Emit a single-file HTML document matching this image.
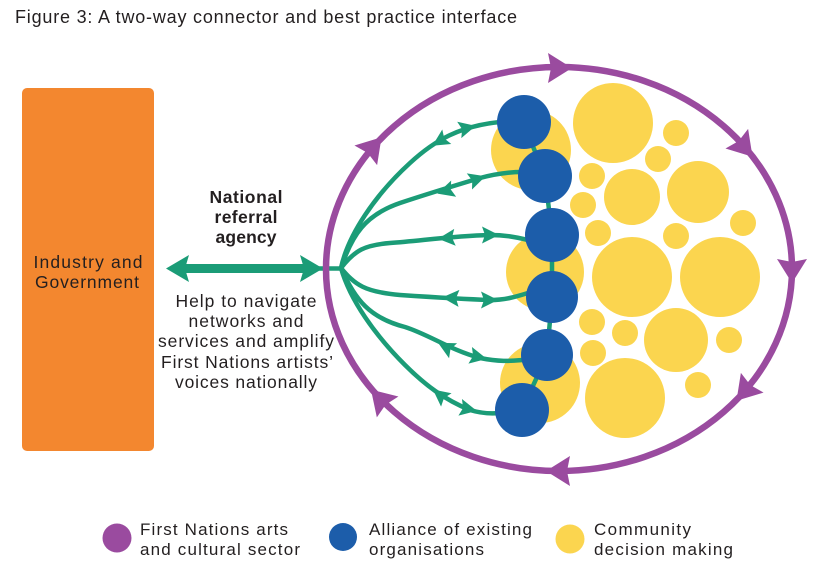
<!DOCTYPE html>
<html><head><meta charset="utf-8"><style>
html,body{margin:0;padding:0;background:#fff;width:821px;height:579px;overflow:hidden}
svg{display:block}
text{font-family:"Liberation Sans",Arial,sans-serif;fill:#231f20}
</style></head><body>
<svg width="821" height="579" viewBox="0 0 821 579" xmlns="http://www.w3.org/2000/svg">
<text x="15" y="23" font-size="18" textLength="502" lengthAdjust="spacing">Figure 3: A two-way connector and best practice interface</text>

<rect x="22" y="88" width="132" height="363" rx="5" fill="#f3872f"/>
<text x="88" y="268" font-size="17.5" text-anchor="middle" textLength="109" lengthAdjust="spacing">Industry and</text>
<text x="87" y="288" font-size="17.5" text-anchor="middle" textLength="104" lengthAdjust="spacing">Government</text>

<g font-weight="bold" font-size="17.5" text-anchor="middle">
<text x="246" y="203" textLength="73" lengthAdjust="spacing">National</text>
<text x="246" y="223" textLength="63" lengthAdjust="spacing">referral</text>
<text x="246" y="243" textLength="61" lengthAdjust="spacing">agency</text>
</g>
<g font-size="17.5" text-anchor="middle">
<text x="246" y="307" textLength="141" lengthAdjust="spacing">Help to navigate</text>
<text x="246" y="327" textLength="115" lengthAdjust="spacing">networks and</text>
<text x="246" y="347" textLength="176" lengthAdjust="spacing">services and amplify</text>
<text x="247" y="368" textLength="172" lengthAdjust="spacing">First Nations artists’</text>
<text x="246" y="388" textLength="142" lengthAdjust="spacing">voices nationally</text>
</g>

<!-- double arrow -->
<g fill="#1b9c77">
<rect x="182" y="264" width="122" height="9"/>
<polygon points="166,268.5 189,255 185,268.5 189,282"/>
<polygon points="323,268.5 300,255 304,268.5 300,282"/>
</g>
<line x1="318" y1="268.5" x2="343" y2="268.5" stroke="#1b9c77" stroke-width="4.5"/>

<!-- yellow circles -->
<g fill="#fbd54f">
<circle cx="531" cy="150" r="40"/>
<circle cx="545" cy="272" r="39"/>
<circle cx="540" cy="383" r="40"/>
<circle cx="613" cy="123" r="40"/>
<circle cx="676" cy="133" r="13"/>
<circle cx="658" cy="159" r="13"/>
<circle cx="592" cy="176" r="13"/>
<circle cx="632" cy="197" r="28"/>
<circle cx="698" cy="192" r="31"/>
<circle cx="583" cy="205" r="13"/>
<circle cx="598" cy="233" r="13"/>
<circle cx="676" cy="236" r="13"/>
<circle cx="743" cy="223" r="13"/>
<circle cx="632" cy="277" r="40"/>
<circle cx="720" cy="277" r="40"/>
<circle cx="592" cy="322" r="13"/>
<circle cx="625" cy="333" r="13"/>
<circle cx="676" cy="340" r="32"/>
<circle cx="729" cy="340" r="13"/>
<circle cx="593" cy="353" r="13"/>
<circle cx="698" cy="385" r="13"/>
<circle cx="625" cy="398" r="40"/>
</g>

<!-- green chain + fan -->
<g fill="none" stroke="#1b9c77" stroke-width="4.5" stroke-linecap="round">
<polyline points="523,122 545,176 552,235 552,297 547,355 522,410"/>
<path d="M341,268 C348,235 375,195 410,163 C435,140 460,126 500,122"/>
<path d="M341,268 C352,235 365,215 400,203 C430,193 460,184 480,178 C495,174 510,172 522,172"/>
<path d="M341,268 C355,250 365,245 390,243 C420,241 450,236 490,235 C505,235 515,237 528,240"/>
<path d="M341,268 C355,285 365,292 400,295 C430,297 460,299 490,300 C505,300 515,297 528,293"/>
<path d="M341,268 C355,300 370,318 405,327 C430,335 450,350 480,358 C500,362 510,361 522,360"/>
<path d="M341,268 C350,300 375,335 405,365 C425,385 445,400 470,410 C480,413 490,414 500,413"/>
</g>
<g fill="#1b9c77">
<polygon points="9,0 -8,-8.5 -5,0 -8,8.5" transform="translate(440,141) rotate(148)"/>
<polygon points="9,0 -8,-8.5 -5,0 -8,8.5" transform="translate(467,128) rotate(-14)"/>
<polygon points="9,0 -8,-8.5 -5,0 -8,8.5" transform="translate(446,191) rotate(163)"/>
<polygon points="9,0 -8,-8.5 -5,0 -8,8.5" transform="translate(477,179) rotate(-18)"/>
<polygon points="9,0 -8,-8.5 -5,0 -8,8.5" transform="translate(447,238) rotate(175)"/>
<polygon points="9,0 -8,-8.5 -5,0 -8,8.5" transform="translate(490,235) rotate(0)"/>
<polygon points="9,0 -8,-8.5 -5,0 -8,8.5" transform="translate(451,298) rotate(183)"/>
<polygon points="9,0 -8,-8.5 -5,0 -8,8.5" transform="translate(489,300) rotate(0)"/>
<polygon points="9,0 -8,-8.5 -5,0 -8,8.5" transform="translate(446,347) rotate(-152)"/>
<polygon points="9,0 -8,-8.5 -5,0 -8,8.5" transform="translate(478,357) rotate(12)"/>
<polygon points="9,0 -8,-8.5 -5,0 -8,8.5" transform="translate(440,395) rotate(-142)"/>
<polygon points="9,0 -8,-8.5 -5,0 -8,8.5" transform="translate(468,409) rotate(12)"/>
</g>

<!-- blue circles -->
<g fill="#1c5daa">
<circle cx="524" cy="122" r="27"/>
<circle cx="545" cy="176" r="27"/>
<circle cx="552" cy="235" r="27"/>
<circle cx="552" cy="297" r="26"/>
<circle cx="547" cy="355" r="26"/>
<circle cx="522" cy="410" r="27"/>
</g>

<!-- purple ring -->
<ellipse cx="559" cy="269" rx="233" ry="202" fill="none" stroke="#9a4b9f" stroke-width="6.5"/>
<g fill="#9a4b9f">
<polygon points="13,0 -11,-15 -8,0 -11,15" transform="translate(559,68) rotate(0)"/>
<polygon points="13,0 -11,-15 -8,0 -11,15" transform="translate(744,147) rotate(49)"/>
<polygon points="13,0 -11,-15 -8,0 -11,15" transform="translate(792,270) rotate(90)"/>
<polygon points="13,0 -11,-15 -8,0 -11,15" transform="translate(745,391) rotate(131)"/>
<polygon points="13,0 -11,-15 -8,0 -11,15" transform="translate(559,471) rotate(180)"/>
<polygon points="13,0 -11,-15 -8,0 -11,15" transform="translate(380,399) rotate(-134)"/>
<polygon points="13,0 -11,-15 -8,0 -11,15" transform="translate(373,147) rotate(-49)"/>
</g>

<!-- legend -->
<ellipse cx="117" cy="538" rx="14.5" ry="14.5" fill="#9a4b9f"/>
<ellipse cx="343" cy="537" rx="14" ry="14" fill="#1c5daa"/>
<ellipse cx="570" cy="539" rx="14.5" ry="14.5" fill="#fbd54f"/>
<g font-size="17">
<text x="140" y="535" textLength="148" lengthAdjust="spacing">First Nations arts</text>
<text x="140" y="555" textLength="160" lengthAdjust="spacing">and cultural sector</text>
<text x="369" y="535" textLength="163" lengthAdjust="spacing">Alliance of existing</text>
<text x="369" y="555" textLength="115" lengthAdjust="spacing">organisations</text>
<text x="594" y="535" textLength="97" lengthAdjust="spacing">Community</text>
<text x="594" y="555" textLength="139" lengthAdjust="spacing">decision making</text>
</g>
</svg>
</body></html>
